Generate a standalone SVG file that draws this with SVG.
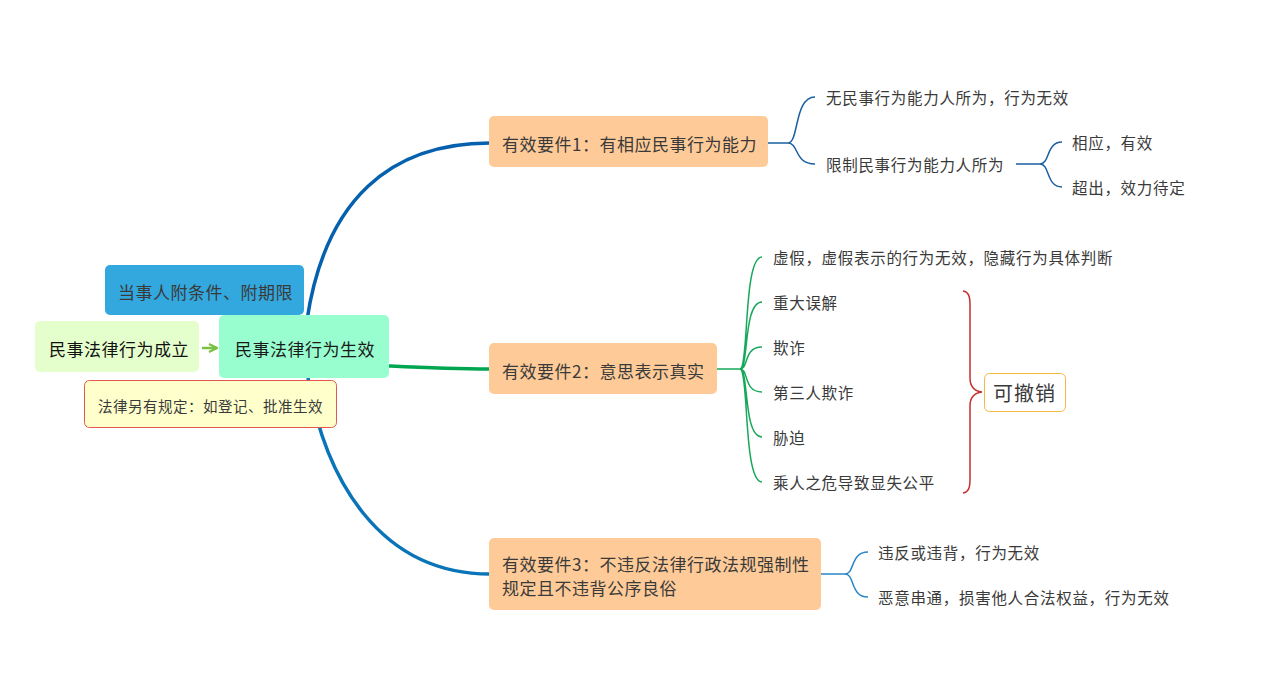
<svg xmlns="http://www.w3.org/2000/svg" width="1283" height="692" viewBox="0 0 1283 692">
<style>
text{font-family:"Noto Sans CJK SC","Noto Sans",sans-serif;dominant-baseline:central;fill:#3a3a3a}
.main{font-size:17px;letter-spacing:0.5px}
.sub{font-size:15.5px;letter-spacing:0.7px}
.req{fill:#fecb98}
.b1{fill:none;stroke:#1a5fa0;stroke-width:1.5}
.b2{fill:none;stroke:#16a85a;stroke-width:1.5}
.b3{fill:none;stroke:#2a86c5;stroke-width:1.5}
</style>
<defs>
<marker id="arr" viewBox="0 0 10 10" refX="9" refY="5" markerWidth="10" markerHeight="10" markerUnits="userSpaceOnUse" orient="auto">
<path d="M1,1 L9,5 L1,9" fill="none" stroke="#7ac143" stroke-width="2.2"/>
</marker>
</defs>
<rect width="1283" height="692" fill="#ffffff"/>
<g id="connectors">
<path d="M307,320 C325,200 390,143 490,143" fill="none" stroke="#0560ad" stroke-width="3.5"/>
<path d="M389,366 C430,368 450,369 490,369" fill="none" stroke="#00a550" stroke-width="3.5"/>
<path d="M308,378 C325,480 380,574 490,574" fill="none" stroke="#0a74b8" stroke-width="3.5"/>
<path d="M202,348 L217,348" fill="none" stroke="#7ac143" stroke-width="2.5" marker-end="url(#arr)"/>
<path class="b1" d="M768,143 L788,143 C799,143 794,97 815,97 M788,143 C799,143 794,164 815,164"/>
<path class="b1" d="M1016,164 L1040,164" stroke-width="2.2"/>
<path class="b1" d="M1040,164 C1050,164 1046,142 1062,142 M1040,164 C1050,164 1046,187 1062,187"/>
<path class="b2" d="M717,369 L740,369" stroke-width="2.5"/>
<path class="b2" d="M740,369 C749,369 743,257 762,257 M740,369 C749,369 743,302 762,302 M740,369 C749,369 743,347 762,347 M740,369 C749,369 743,392 762,392 M740,369 C749,369 743,437 762,437 M740,369 C749,369 743,482 762,482"/>
<path class="b3" d="M821,574 L845,574 C855,574 850,552 868,552 M845,574 C855,574 850,597 868,597"/>
<path d="M963,291 C969,292 970,297 970,305 L970,378 C970,386 974,391 982,392 C974,393 970,398 970,406 L970,479 C970,487 969,492 963,493" fill="none" stroke="#c53030" stroke-width="1.5"/>
</g>
<g id="node-cond">
<rect x="105" y="265" width="199" height="50" rx="5" fill="#33a8df"/>
<text class="main" x="118" y="291">当事人附条件、附期限</text>
</g>
<g id="node-formed">
<rect x="35" y="321" width="164" height="51" rx="5" fill="#e5ffcc"/>
<text class="main" x="49" y="348" style="fill:#111">民事法律行为成立</text>
</g>
<g id="node-center">
<rect x="219" y="315" width="170" height="63" rx="5" fill="#99fecf"/>
<text class="main" x="235" y="348" style="fill:#1a1a1a">民事法律行为生效</text>
</g>
<g id="node-note">
<rect x="84.5" y="380.5" width="252" height="47" rx="5" fill="#ffffcc" stroke="#e0584f" stroke-width="1"/>
<text x="98" y="405" style="font-size:14.5px;letter-spacing:0.5px">法律另有规定：如登记、批准生效</text>
</g>
<g id="node-req1">
<rect class="req" x="489" y="116" width="279" height="51" rx="5"/>
<text class="main" x="502" y="143">有效要件1：有相应民事行为能力</text>
</g>
<g id="node-req1-a"><text class="sub" x="826" y="97">无民事行为能力人所为，行为无效</text></g>
<g id="node-req1-b"><text class="sub" x="826" y="164">限制民事行为能力人所为</text></g>
<g id="node-req1-b1"><text class="sub" x="1072" y="142">相应，有效</text></g>
<g id="node-req1-b2"><text class="sub" x="1072" y="187">超出，效力待定</text></g>
<g id="node-req2">
<rect class="req" x="489" y="343" width="228" height="51" rx="5"/>
<text class="main" x="502" y="370">有效要件2：意思表示真实</text>
</g>
<g id="node-req2-a"><text class="sub" x="773" y="257">虚假，虚假表示的行为无效，隐藏行为具体判断</text></g>
<g id="node-req2-b"><text class="sub" x="773" y="302">重大误解</text></g>
<g id="node-req2-c"><text class="sub" x="773" y="347">欺诈</text></g>
<g id="node-req2-d"><text class="sub" x="773" y="392">第三人欺诈</text></g>
<g id="node-req2-e"><text class="sub" x="773" y="437">胁迫</text></g>
<g id="node-req2-f"><text class="sub" x="773" y="482">乘人之危导致显失公平</text></g>
<g id="node-revocable">
<rect x="984.5" y="373.5" width="81" height="38" rx="5" fill="#ffffff" stroke="#f5b942" stroke-width="1"/>
<text x="993" y="392" style="font-size:20px;letter-spacing:1px">可撤销</text>
</g>
<g id="node-req3">
<rect class="req" x="489" y="538" width="332" height="72" rx="5"/>
<text class="main" x="502" y="563">有效要件3：不违反法律行政法规强制性</text>
<text class="main" x="502" y="587">规定且不违背公序良俗</text>
</g>
<g id="node-req3-a"><text class="sub" x="878" y="552">违反或违背，行为无效</text></g>
<g id="node-req3-b"><text class="sub" x="878" y="597">恶意串通，损害他人合法权益，行为无效</text></g>
</svg>
